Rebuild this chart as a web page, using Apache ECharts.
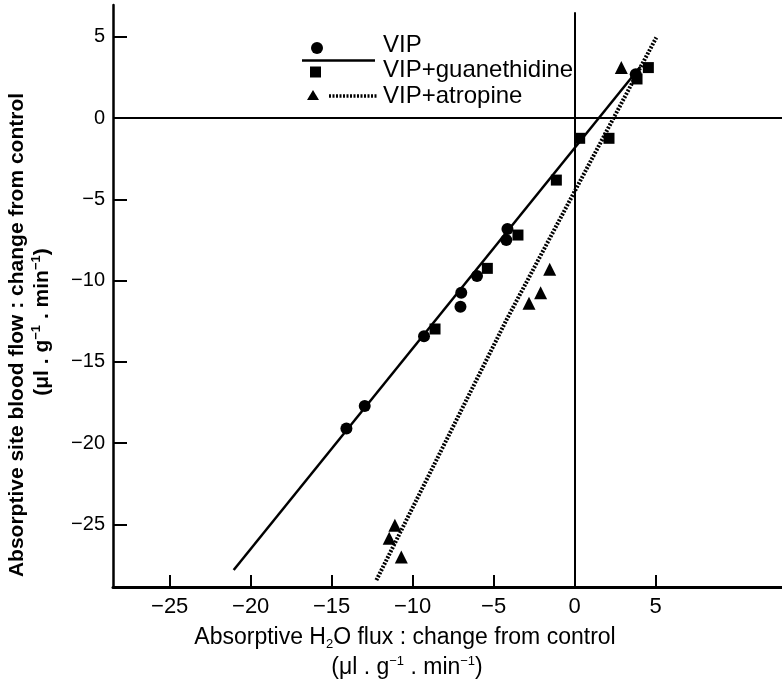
<!DOCTYPE html>
<html>
<head>
<meta charset="utf-8">
<script src="https://cdn.jsdelivr.net/npm/echarts@6/dist/echarts.min.js"></script>
<style>
  html, body { margin: 0; padding: 0; background: #fff; }
  #chart { width: 782px; height: 681px; }
</style>
</head>
<body>
<div id="chart"></div>
<script>
// Tick values for both axes
const xTicks = [-25, -20, -15, -10, -5, 0, 5];
const yTicks = [5, 0, -5, -10, -15, -20, -25];

// Observations: [absorptive H2O flux change, blood flow change]
const vip = [[-14.09, -19.1], [-12.96, -17.72], [-9.3, -13.42], [-7.0, -10.75], [-7.05, -11.61],
             [-6.03, -9.72], [-4.15, -6.83], [-4.22, -7.51], [3.77, 2.69]];
const guanethidine = [[-8.62, -12.98], [-5.39, -9.25], [-3.5, -7.2], [-1.13, -3.82], [0.31, -1.25],
                      [2.12, -1.25], [3.85, 2.4], [4.55, 3.1]];
const atropine = [[2.88, 3.1], [-1.54, -9.31], [-2.1, -10.75], [-2.82, -11.4],
                  [-11.1, -25.05], [-11.45, -25.85], [-10.7, -27.0]];

// Fitted lines
const vipFit = [[-21.05, -27.8], [4.05, 3.15]];
const atropineFit = [[-12.24, -28.43], [-4.2, -12.4], [5.04, 4.95]];

const X_MIN = -28.5, X_MAX = 12.8, Y_MIN = -28.85, Y_MAX = 6.95;

const chart = echarts.init(document.getElementById('chart'), null, { renderer: 'canvas' });
const narrow = 'Liberation Sans Narrow, Liberation Sans, Arial, sans-serif';
const sans = 'Liberation Sans, Arial, sans-serif';
const fmt = v => (v < 0 ? '\u2212' + Math.abs(v) : String(v));
const solidMark = { color: '#000', opacity: 1 };

const option = {
  backgroundColor: '#fff',
  animation: false,
  grid: { left: 113, right: 0, top: 5, bottom: 94 },
  xAxis: {
    type: 'value', min: X_MIN, max: X_MAX,
    splitLine: { show: false },
    axisLine: { show: true, onZero: false, lineStyle: { color: '#000', width: 3 } },
    axisTick: { show: true, inside: true, length: 12, customValues: xTicks, lineStyle: { color: '#000', width: 2 } },
    axisLabel: { customValues: xTicks, formatter: fmt, margin: 9, color: '#000', fontSize: 22, fontFamily: narrow }
  },
  yAxis: {
    type: 'value', min: Y_MIN, max: Y_MAX,
    splitLine: { show: false },
    axisLine: { show: true, onZero: false, lineStyle: { color: '#000', width: 2.5 } },
    axisTick: { show: true, inside: true, length: 14, customValues: yTicks, lineStyle: { color: '#000', width: 2 } },
    axisLabel: { customValues: yTicks, formatter: fmt, margin: 8, color: '#000', fontSize: 20, fontFamily: sans }
  },
  series: [
    {
      name: 'VIP fit', type: 'line', data: vipFit, symbol: 'none', silent: true,
      lineStyle: { color: '#000', width: 2.5 },
      markLine: {
        silent: true, symbol: 'none', label: { show: false },
        lineStyle: { color: '#000', width: 2, type: 'solid' },
        data: [
          [{ coord: [X_MIN, 0] }, { coord: [X_MAX, 0] }],
          [{ coord: [0, 6.5] }, { coord: [0, Y_MIN] }]
        ]
      }
    },
    {
      name: 'VIP+atropine fit', type: 'line', data: atropineFit, symbol: 'none', silent: true,
      lineStyle: { color: '#000', width: 4, type: [2, 1.5] }
    },
    { name: 'VIP', type: 'scatter', data: vip, symbol: 'circle', symbolSize: 12, itemStyle: solidMark },
    { name: 'VIP+guanethidine', type: 'scatter', data: guanethidine, symbol: 'rect', symbolSize: 11, itemStyle: solidMark },
    { name: 'VIP+atropine', type: 'scatter', data: atropine, symbol: 'triangle', symbolSize: 13, itemStyle: solidMark }
  ],
  graphic: [
    // legend
    { type: 'circle', shape: { cx: 317, cy: 48, r: 6 }, style: { fill: '#000' } },
    { type: 'line', shape: { x1: 302, y1: 60.5, x2: 375, y2: 60.5 }, style: { stroke: '#000', lineWidth: 2.5 } },
    { type: 'rect', shape: { x: 310, y: 66.5, width: 11, height: 11 }, style: { fill: '#000' } },
    { type: 'polygon', shape: { points: [[313, 90], [319, 100], [307, 100]] }, style: { fill: '#000' } },
    { type: 'line', shape: { x1: 329, y1: 96, x2: 378, y2: 96 }, style: { stroke: '#000', lineWidth: 3.5, lineDash: [2, 1.5] } },
    { type: 'text', left: 383, top: 33, style: { text: 'VIP', font: '24px ' + sans, fill: '#000' } },
    { type: 'text', left: 383, top: 58, style: { text: 'VIP+guanethidine', font: '24px ' + sans, fill: '#000' } },
    { type: 'text', left: 383, top: 84, style: { text: 'VIP+atropine', font: '24px ' + sans, fill: '#000' } },
    // y axis title
    {
      type: 'text', x: 17, y: 335, rotation: Math.PI / 2,
      style: { text: 'Absorptive site blood flow : change from control', font: 'bold 21px ' + sans,
               fill: '#000', align: 'center', verticalAlign: 'middle' }
    },
    {
      type: 'text', x: 42, y: 322, rotation: Math.PI / 2,
      style: {
        text: '(\u03bcl . g{s|\u22121} . min{s|\u22121})', fill: '#000', align: 'center', verticalAlign: 'middle',
        font: 'bold 21px ' + sans,
        rich: { s: { fontSize: 13, fontWeight: 'bold', verticalAlign: 'top', lineHeight: 24, fontFamily: sans } }
      }
    },
    // x axis title
    {
      type: 'text', x: 405, y: 638,
      style: {
        text: 'Absorptive H{b|2}O flux : change from control', fill: '#000', align: 'center', verticalAlign: 'middle',
        font: '23px ' + narrow,
        rich: { b: { fontSize: 13, verticalAlign: 'bottom', lineHeight: 26, fontFamily: narrow } }
      }
    },
    {
      type: 'text', x: 407, y: 668,
      style: {
        text: '(\u03bcl . g{s|\u22121} . min{s|\u22121})', fill: '#000', align: 'center', verticalAlign: 'middle',
        font: '23px ' + narrow,
        rich: { s: { fontSize: 13, verticalAlign: 'top', lineHeight: 26, fontFamily: narrow } }
      }
    }
  ]
};
chart.setOption(option);
</script>
</body>
</html>
